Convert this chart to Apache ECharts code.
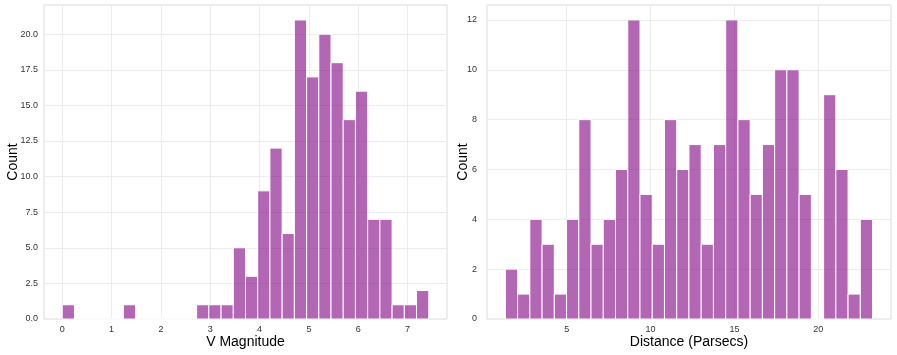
<!DOCTYPE html>
<html>
<head>
<meta charset="utf-8">
<script src="https://cdn.jsdelivr.net/npm/echarts@6/dist/echarts.min.js"></script>
<style>
  html, body { margin: 0; padding: 0; background: #fff; }
  #chart { width: 897px; height: 355px; }
</style>
</head>
<body>
<div id="chart"></div>
<script>
// V magnitude histogram: 30 bins
var magStart = 0.0;
var magEnd = 7.43;
var magCounts = [1, 0, 0, 0, 0, 1, 0, 0, 0, 0, 0, 1, 1, 1, 5, 3, 9, 12, 6, 21, 17, 20, 18, 14, 16, 7, 7, 1, 1, 2];
var magTicks = [0, 1, 2, 3, 4, 5, 6, 7];

// distance histogram: 30 bins
var distStart = 1.34;
var distEnd = 23.24;
var distCounts = [2, 1, 4, 3, 1, 4, 8, 3, 4, 6, 12, 5, 3, 8, 6, 7, 3, 7, 12, 8, 5, 7, 10, 10, 5, 0, 9, 6, 1, 4];
var distTicks = [5, 10, 15, 20];

function toBins(start, end, counts) {
  var w = (end - start) / counts.length;
  var out = [];
  for (var i = 0; i < counts.length; i++) {
    out.push([start + i * w, start + (i + 1) * w, counts[i]]);
  }
  return out;
}

function renderBar(params, api) {
  var p0 = api.coord([api.value(0), api.value(2)]);
  var p1 = api.coord([api.value(1), 0]);
  return {
    type: 'rect',
    shape: { x: p0[0], y: p0[1], width: p1[0] - p0[0], height: p1[1] - p0[1] },
    style: { fill: 'rgba(128,0,128,0.6)', stroke: '#ffffff', lineWidth: 1 }
  };
}

var font = 'Liberation Sans, Arial, sans-serif';
var gridLine = { show: true, lineStyle: { color: '#ececec', width: 1 } };
var tickLabel = { color: '#333', fontSize: 9, fontFamily: font };
var title = { color: '#000', fontSize: 14, fontFamily: font };

var option = {
  animation: false,
  grid: [
    { left: 44, right: 450, top: 5, bottom: 36, outerBoundsMode: 'none', containLabel: false,
      show: true, borderColor: '#dcdcdc', borderWidth: 1 },
    { left: 487, right: 6, top: 5, bottom: 36, outerBoundsMode: 'none', containLabel: false,
      show: true, borderColor: '#dcdcdc', borderWidth: 1 }
  ],
  xAxis: [
    {
      gridIndex: 0, type: 'value', min: -0.37, max: 7.80,
      name: 'V Magnitude', nameLocation: 'middle', nameGap: 16, nameTextStyle: title,
      nameMoveOverlap: false,
      axisLine: { show: false },
      axisTick: { show: false, customValues: magTicks },
      axisLabel: Object.assign({ customValues: magTicks, margin: 6 }, tickLabel),
      splitLine: gridLine
    },
    {
      gridIndex: 1, type: 'value', min: 0.245, max: 24.34,
      name: 'Distance (Parsecs)', nameLocation: 'middle', nameGap: 16, nameTextStyle: title,
      nameMoveOverlap: false,
      axisLine: { show: false },
      axisTick: { show: false, customValues: distTicks },
      axisLabel: Object.assign({ customValues: distTicks, margin: 6 }, tickLabel),
      splitLine: gridLine
    }
  ],
  yAxis: [
    {
      gridIndex: 0, type: 'value', min: 0, max: 22.05, interval: 2.5,
      name: 'Count', nameLocation: 'middle', nameGap: 24, nameTextStyle: title,
      nameMoveOverlap: false,
      axisLine: { show: false }, axisTick: { show: false },
      axisLabel: Object.assign({ margin: 6, formatter: function (v) { return v > 22 ? '' : v.toFixed(1); } }, tickLabel),
      splitLine: gridLine
    },
    {
      gridIndex: 1, type: 'value', min: 0, max: 12.6, interval: 2,
      name: 'Count', nameLocation: 'middle', nameGap: 17, nameTextStyle: title,
      nameMoveOverlap: false,
      axisLine: { show: false }, axisTick: { show: false },
      axisLabel: Object.assign({ margin: 10, formatter: function (v) { return v > 12.5 ? '' : v; } }, tickLabel),
      splitLine: gridLine
    }
  ],
  series: [
    {
      type: 'custom', xAxisIndex: 0, yAxisIndex: 0,
      renderItem: renderBar, encode: { x: [0, 1], y: 2 },
      data: toBins(magStart, magEnd, magCounts)
    },
    {
      type: 'custom', xAxisIndex: 1, yAxisIndex: 1,
      renderItem: renderBar, encode: { x: [0, 1], y: 2 },
      data: toBins(distStart, distEnd, distCounts)
    }
  ]
};

var chart = echarts.init(document.getElementById('chart'));
chart.setOption(option);
</script>
</body>
</html>
